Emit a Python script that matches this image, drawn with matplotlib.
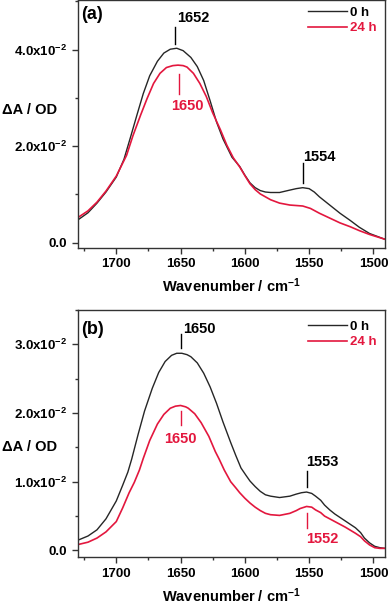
import numpy as np
import matplotlib
matplotlib.use("Agg")
import matplotlib.pyplot as plt
from matplotlib.ticker import MultipleLocator, FuncFormatter

plt.rcParams['font.family'] = ['Liberation Sans', 'DejaVu Sans']
plt.rcParams['font.weight'] = 'bold'
plt.rcParams['mathtext.default'] = 'regular'

# ---------------- data ----------------
# panel (a), 0 h
wn_a0 = [1731, 1722, 1715, 1708, 1700, 1694, 1689, 1684, 1679, 1674, 1668, 1663,
         1658, 1653, 1648, 1642, 1637, 1632, 1627, 1622, 1617, 1610, 1604, 1600,
         1596, 1592, 1588, 1584, 1580, 1573, 1565, 1560, 1555, 1550, 1546, 1542,
         1534, 1526, 1518, 1511, 1503, 1497, 1491]
a_0h = [0.0045, 0.0062, 0.0082, 0.0105, 0.0136, 0.0173, 0.0218, 0.0264, 0.0309,
        0.0346, 0.0376, 0.0393, 0.0401, 0.0403, 0.0398, 0.0384, 0.0365, 0.0336,
        0.0294, 0.0250, 0.0215, 0.0177, 0.0158, 0.0140, 0.0124, 0.0114, 0.0108,
        0.0105, 0.0104, 0.0104, 0.0109, 0.0112, 0.0114, 0.0112, 0.0105, 0.0095,
        0.0078, 0.0061, 0.0046, 0.0032, 0.0019, 0.0013, 0.0007]
# panel (a), 24 h
wn_a24 = [1731, 1722, 1715, 1708, 1700, 1692, 1687, 1681, 1676, 1671, 1666, 1661,
          1656, 1652, 1648, 1645, 1640, 1635, 1630, 1625, 1619, 1614, 1609, 1604,
          1600, 1596, 1592, 1588, 1584, 1580, 1573, 1565, 1560, 1555, 1549, 1542,
          1534, 1526, 1518, 1511, 1503, 1497, 1491]
a_24h = [0.0050, 0.0066, 0.0084, 0.0107, 0.0138, 0.0181, 0.0222, 0.0265, 0.0299,
         0.0330, 0.0351, 0.0363, 0.0367, 0.0368, 0.0367, 0.0364, 0.0351, 0.0330,
         0.0303, 0.0269, 0.0234, 0.0202, 0.0176, 0.0157, 0.0139, 0.0122, 0.0110,
         0.0101, 0.0095, 0.0089, 0.0082, 0.0078, 0.0077, 0.0076, 0.0071, 0.0061,
         0.0051, 0.0041, 0.0033, 0.0025, 0.0017, 0.0012, 0.0007]
# panel (b), 0 h
wn_b0 = [1731, 1722, 1715, 1708, 1700, 1695, 1691, 1688, 1683, 1678, 1672, 1667,
         1662, 1657, 1653, 1649, 1645, 1642, 1637, 1632, 1627, 1622, 1617, 1611,
         1607, 1603, 1599, 1596, 1592, 1588, 1584, 1580, 1573, 1565, 1560, 1556,
         1552, 1548, 1545, 1541, 1538, 1534, 1530, 1522, 1514, 1510, 1507, 1503,
         1499, 1495, 1491]
b_0h = [0.0014, 0.0021, 0.0030, 0.0046, 0.0072, 0.0095, 0.0114, 0.0133, 0.0169,
        0.0203, 0.0236, 0.0259, 0.0275, 0.0284, 0.0287, 0.0287, 0.0285, 0.0282,
        0.0273, 0.0258, 0.0238, 0.0214, 0.0187, 0.0157, 0.0138, 0.0120, 0.0109,
        0.0101, 0.0093, 0.0086, 0.0081, 0.0079, 0.0077, 0.0079, 0.0082, 0.0084,
        0.0085, 0.0083, 0.0079, 0.0073, 0.0066, 0.0059, 0.0053, 0.0043, 0.0033,
        0.0026, 0.0018, 0.0011, 0.0006, 0.0004, 0.0003]
# panel (b), 24 h
wn_b24 = [1731, 1722, 1715, 1708, 1700, 1695, 1690, 1686, 1682, 1679, 1674, 1668,
          1663, 1658, 1654, 1650, 1646, 1644, 1639, 1634, 1628, 1623, 1620, 1616,
          1611, 1607, 1604, 1600, 1596, 1592, 1588, 1584, 1580, 1573, 1565, 1560,
          1557, 1552, 1548, 1545, 1541, 1538, 1530, 1522, 1514, 1510, 1507, 1503,
          1499, 1495, 1491]
b_24h = [0.0008, 0.0012, 0.0018, 0.0027, 0.0042, 0.0062, 0.0084, 0.0099, 0.0117,
         0.0134, 0.0160, 0.0184, 0.0198, 0.0207, 0.0210, 0.0211, 0.0209, 0.0207,
         0.0199, 0.0186, 0.0166, 0.0144, 0.0133, 0.0117, 0.0100, 0.0091, 0.0084,
         0.0076, 0.0069, 0.0063, 0.0058, 0.0054, 0.0052, 0.0051, 0.0054, 0.0058,
         0.0061, 0.0064, 0.0063, 0.0059, 0.0055, 0.0050, 0.0042, 0.0034, 0.0025,
         0.0020, 0.0014, 0.0008, 0.0004, 0.0003, 0.0003]

series_labels = ["0 h", "24 h"]
panel_labels = ["(a)", "(b)"]
xlabel = "Wavenumber / cm$^{-1}$"
ylabel = "\u0394A / OD"

BLACK = "#262626"
RED = "#e3173e"

fig = plt.figure(figsize=(3.9, 6.06), dpi=100)
ax_a = fig.add_axes([77.7/390, (606-247.5)/606, (385-77.7)/390, 247.5/606])
ax_b = fig.add_axes([77.7/390, (606-557.3)/606, (385-77.7)/390, (557.3-310)/606])


def yfmt(v, pos):
    if abs(v) < 1e-12:
        return "0.0"
    return "%.1fx10$^{-2}$" % (v * 100)


def style(ax, ylim, ymaj, ymin):
    ax.set_xlim(1730, 1491)
    ax.set_ylim(*ylim)
    ax.xaxis.set_major_locator(MultipleLocator(50))
    ax.xaxis.set_minor_locator(MultipleLocator(25))
    ax.yaxis.set_major_locator(MultipleLocator(ymaj))
    ax.yaxis.set_minor_locator(MultipleLocator(ymin))
    ax.yaxis.set_major_formatter(FuncFormatter(yfmt))
    ax.tick_params(which='both', direction='out', colors='#333333', labelcolor='black',
                   labelsize=9.5, width=1.0)
    ax.tick_params(which='major', length=4)
    ax.tick_params(which='minor', length=2.5)
    for s in ax.spines.values():
        s.set_color('#333333')
        s.set_linewidth(1.0)
    ax.set_xlabel(xlabel, fontsize=10.5, fontweight='bold', labelpad=5)


for ax, (w0, s0, w24, s24), ylim, ymaj, ymin, lab in [
        (ax_a, (wn_a0, a_0h, wn_a24, a_24h), (-0.001, 0.0503), 0.02, 0.01, panel_labels[0]),
        (ax_b, (wn_b0, b_0h, wn_b24, b_24h), (-0.001, 0.035), 0.01, 0.005, panel_labels[1])]:
    ax.plot(w0, s0, color=BLACK, lw=1.0, label=series_labels[0])
    ax.plot(w24, s24, color=RED, lw=1.2, label=series_labels[1])
    style(ax, ylim, ymaj, ymin)
    ax.text(0.012, 0.975 if ax is ax_a else 0.955, lab, transform=ax.transAxes,
            fontsize=13, fontweight='bold', va='top', ha='left')
    leg = ax.legend(loc='upper right', frameon=False, fontsize=9.5, handlelength=2.9,
                    handletextpad=0.3, labelspacing=0.25, borderaxespad=0.2,
                    bbox_to_anchor=(1.0, 1.005 if ax is ax_a else 0.99))
    for t, c in zip(leg.get_texts(), ['black', RED]):
        t.set_color(c)
        t.set_fontweight('bold')

# ---- peak annotations ----
def mark(ax, x, y0, y1, text, tx, ty, color, ha, va):
    ax.plot([x, x], [y0, y1], color=color, lw=1.0)
    ax.text(tx, ty, text, color=color, ha=ha, va=va, fontsize=10.5, fontweight='bold')

mark(ax_a, 1654, 0.0412, 0.0447, "1652", 1653, 0.0452, 'black', 'left', 'bottom')
mark(ax_a, 1651, 0.0308, 0.0350, "1650", 1645, 0.0298, RED, 'center', 'top')
mark(ax_a, 1555, 0.0124, 0.0165, "1554", 1555, 0.0163, 'black', 'left', 'bottom')

mark(ax_b, 1649.3, 0.0295, 0.0315, "1650", 1648, 0.0312, 'black', 'left', 'bottom')
mark(ax_b, 1650, 0.0182, 0.0203, "1650", 1650, 0.0173, RED, 'center', 'top')
mark(ax_b, 1552, 0.0093, 0.0116, "1553", 1552, 0.0119, 'black', 'left', 'bottom')
mark(ax_b, 1551.5, 0.0033, 0.0054, "1552", 1552, 0.0027, RED, 'left', 'top')

fig.text(2/390, 1 - 110/606, ylabel, fontsize=10.5, fontweight='bold', va='center', ha='left')
fig.text(2/390, 1 - 446.7/606, ylabel, fontsize=10.5, fontweight='bold', va='center', ha='left')

fig.canvas.draw()
for ax in (ax_a, ax_b):
    for axis in (ax.xaxis, ax.yaxis):
        for tick in axis.get_major_ticks():
            tick.label1.set_fontweight('bold')

fig.savefig("out.png", dpi=100)
